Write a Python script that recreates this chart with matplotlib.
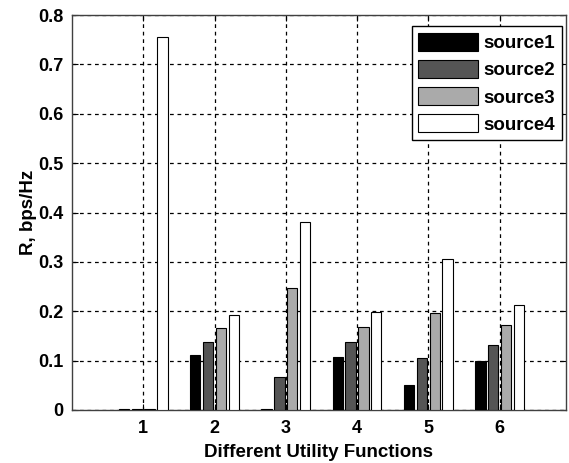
import numpy as np
import matplotlib.pyplot as plt

groups = [1, 2, 3, 4, 5, 6]
source1 = [0.001, 0.111, 0.002, 0.107, 0.051, 0.099]
source2 = [0.002, 0.138, 0.067, 0.138, 0.105, 0.132]
source3 = [0.003, 0.166, 0.247, 0.168, 0.196, 0.172]
source4 = [0.755, 0.192, 0.381, 0.198, 0.306, 0.213]
names = ['source1', 'source2', 'source3', 'source4']
colors = ['#000000', '#555555', '#aaaaaa', '#ffffff']

plt.rcParams['font.family'] = ['Liberation Sans', 'DejaVu Sans']
plt.rcParams['font.weight'] = 'bold'

fig = plt.figure(figsize=(5.69, 4.63), dpi=100)
ax = fig.add_axes([0.1265, 0.1145, 0.868, 0.853])

x = np.array(groups, dtype=float)
step = 0.18
width = 0.145
series = [source1, source2, source3, source4]
for i, vals in enumerate(series):
    ax.bar(x + (i - 1.5) * step, vals, width, color=colors[i],
           edgecolor='black', linewidth=0.8, label=names[i], zorder=3)

ax.set_xlim(0, 6.93)
ax.set_ylim(0, 0.8)
ax.set_xticks(groups)
ax.set_yticks(np.arange(0, 0.81, 0.1))
ax.set_yticklabels(['0', '0.1', '0.2', '0.3', '0.4', '0.5', '0.6', '0.7', '0.8'])
ax.grid(True, color='black', linestyle=(0, (3, 3)), linewidth=0.9, zorder=0)
ax.set_axisbelow(True)
ax.tick_params(direction='in', top=True, right=True, labelsize=13, length=4)
ax.tick_params(axis='x', pad=7)
ax.tick_params(axis='y', pad=6)
for s in ax.spines.values():
    s.set_color('#404040')
    s.set_linewidth(1.0)

ax.set_xlabel('Different Utility Functions', fontsize=13.5, fontweight='bold', labelpad=5)
ax.set_ylabel('R, bps/Hz', fontsize=13.5, fontweight='bold', labelpad=1)

leg = ax.legend(loc='upper right', fontsize=13.5, handlelength=3.2, handleheight=1.1,
                fancybox=False, edgecolor='black', framealpha=1,
                borderpad=0.35, labelspacing=0.42, handletextpad=0.3,
                borderaxespad=0, bbox_to_anchor=(0.992, 0.972))
leg.get_frame().set_linewidth(1.0)

fig.savefig('out.png', dpi=100)
